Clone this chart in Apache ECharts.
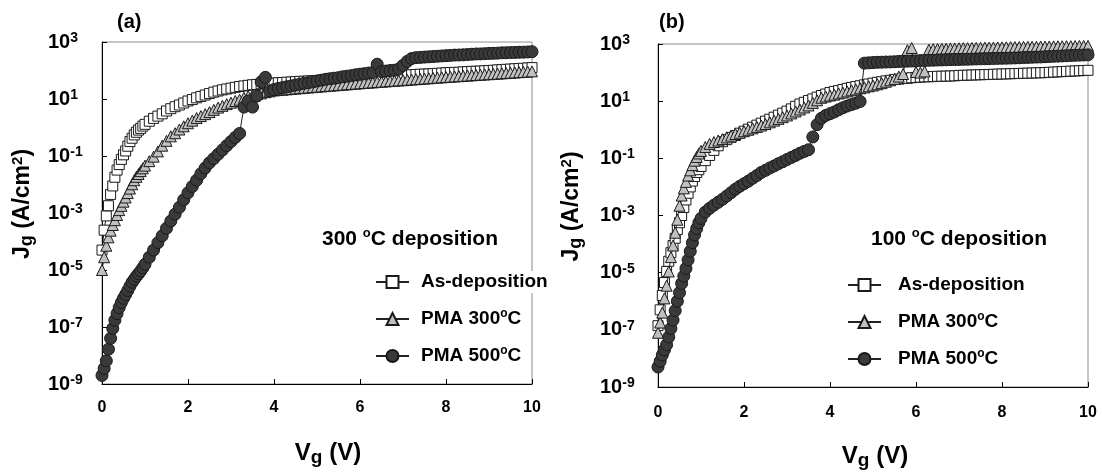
<!DOCTYPE html>
<html>
<head>
<meta charset="utf-8">
<script src="https://cdn.jsdelivr.net/npm/echarts@6/dist/echarts.min.js"></script>
<style>
html, body { margin: 0; padding: 0; background: #ffffff; }
#chart { width: 1102px; height: 475px; }
</style>
</head>
<body>
<div id="chart"></div>
<script>
// Gate voltage sweep, V
const Vg = [
  0, 0.05, 0.1, 0.15, 0.2, 0.25, 0.3, 0.35, 0.4, 0.45,
  0.5, 0.55, 0.6, 0.65, 0.7, 0.75, 0.8, 0.85, 0.9, 0.95,
  1.0, 1.1, 1.2, 1.3, 1.4, 1.5, 1.6, 1.7, 1.8, 1.9,
  2.0, 2.1, 2.2, 2.3, 2.4, 2.5, 2.6, 2.7, 2.8, 2.9,
  3.0, 3.1, 3.2, 3.3, 3.4, 3.5, 3.6, 3.7, 3.8, 3.9,
  4.0, 4.1, 4.2, 4.3, 4.4, 4.5, 4.6, 4.7, 4.8, 4.9,
  5.0, 5.1, 5.2, 5.3, 5.4, 5.5, 5.6, 5.7, 5.8, 5.9,
  6.0, 6.1, 6.2, 6.3, 6.4, 6.5, 6.6, 6.7, 6.8, 6.9,
  7.0, 7.1, 7.2, 7.3, 7.4, 7.5, 7.6, 7.7, 7.8, 7.9,
  8.0, 8.1, 8.2, 8.3, 8.4, 8.5, 8.6, 8.7, 8.8, 8.9,
  9.0, 9.1, 9.2, 9.3, 9.4, 9.5, 9.6, 9.7, 9.8, 9.9,
  10.0
];

// Jg (A/cm2), film deposited at 300 C
const asDep300 = [
  5.0e-5, 2.5e-4, 7.9e-4, 1.8e-3, 4.5e-3, 8.9e-3, 1.8e-2, 3.2e-2, 5.0e-2, 7.6e-2,
  0.11, 0.15, 0.22, 0.32, 0.42, 0.55, 0.68, 0.81, 0.93, 1.12,
  1.29, 1.66, 2.09, 2.51, 3.02, 3.8, 4.57, 5.37, 6.17, 7.24,
  8.51, 9.55, 11.0, 12.3, 13.8, 15.5, 17.4, 19.1, 20.9, 22.4,
  24.0, 25.7, 27.5, 28.8, 30.2, 31.6, 32.4, 33.9, 34.7, 35.5,
  36.3, 37.0, 37.9, 38.8, 39.6, 40.5, 41.5, 42.1, 42.9, 43.9,
  44.7, 45.6, 46.8, 47.8, 49.0, 50.1, 50.6, 51.5, 52.6, 53.7,
  55.0, 56.2, 57.5, 58.9, 60.3, 61.6, 62.0, 63.1, 64.6, 66.1,
  67.6, 69.2, 70.8, 72.4, 74.1, 74.6, 75.9, 77.6, 79.4, 81.3,
  83.2, 85.1, 85.6, 87.1, 89.1, 91.2, 93.3, 93.8, 95.5, 97.7,
  100, 102, 105, 107, 110, 112, 115, 117, 120, 123,
  126
];
const pma300Dep300 = [
  1.0e-5, 2.8e-5, 7.1e-5, 1.4e-4, 2.4e-4, 3.8e-4, 5.6e-4, 8.5e-4, 1.26e-3, 1.78e-3,
  2.5e-3, 3.5e-3, 5.0e-3, 7.2e-3, 1.02e-2, 1.41e-2, 1.86e-2, 2.34e-2, 2.95e-2, 3.7e-2,
  4.6e-2, 6.6e-2, 9.5e-2, 0.145, 0.23, 0.34, 0.49, 0.63, 0.85, 1.10,
  1.41, 1.74, 2.14, 2.51, 2.95, 3.47, 4.17, 5.0, 5.75, 6.6,
  7.4, 8.5, 9.5, 11.0, 12.6, 13.5, 14.8, 15.8, 17.4, 18.6,
  20.0, 20.6, 21.2, 21.8, 22.5, 23.2, 23.9, 24.6, 25.3, 26.1,
  26.9, 27.6, 28.4, 29.2, 30.0, 30.8, 31.7, 32.6, 33.5, 34.5,
  35.5, 36.4, 37.4, 38.3, 39.3, 40.4, 41.4, 42.5, 43.6, 44.7,
  45.7, 46.9, 48.1, 49.4, 50.7, 52.0, 53.3, 54.7, 56.1, 57.5,
  58.9, 60.3, 61.8, 63.2, 64.7, 66.2, 67.8, 69.4, 71.0, 72.6,
  74.1, 75.8, 77.6, 79.4, 81.2, 83.1, 85.1, 87.1, 89.1, 91.2,
  93.3
];
const pma500Dep300 = [
  2.0e-9, 3.5e-9, 6.5e-9, 1.66e-8, 4.0e-8, 8.9e-8, 1.74e-7, 2.95e-7, 4.8e-7, 7.2e-7,
  1.02e-6, 1.38e-6, 1.9e-6, 2.7e-6, 3.7e-6, 4.7e-6, 6.0e-6, 7.4e-6, 9.3e-6, 1.2e-5,
  1.58e-5, 2.8e-5, 5.0e-5, 9.1e-5, 1.58e-4, 2.9e-4, 5.2e-4, 9.1e-4, 1.58e-3, 2.9e-3,
  5.1e-3, 8.5e-3, 1.41e-2, 2.4e-2, 3.8e-2, 5.8e-2, 8.1e-2, 0.115, 0.162, 0.23,
  0.32, 0.45, 0.62, 5.2, 8.5, 5.2, 12.6, 39.8, 57.5, 19.1,
  21.4, 23.4, 25.1, 26.9, 28.8, 30.9, 33.1, 35.5, 37.2, 39.8,
  42.7, 45.7, 49.0, 51.3, 53.7, 56.2, 60.3, 63.1, 66.1, 70.8,
  74.1, 77.6, 81.3, 85.1, 166, 91.2, 95.5, 100, 102, 112,
  151, 209, 263, 282, 288, 295, 302, 309, 316, 324,
  331, 339, 347, 350, 355, 363, 372, 380, 382, 389,
  398, 400, 407, 417, 420, 427, 430, 437, 440, 447,
  457
];

// Jg (A/cm2), film deposited at 100 C
const asDep100 = [
  1.4e-7, 5.0e-7, 1.6e-6, 4.5e-6, 1.1e-5, 2.5e-5, 5.0e-5, 8.9e-5, 1.6e-4, 3.2e-4,
  5.6e-4, 1.0e-3, 1.9e-3, 3.5e-3, 6.0e-3, 1.0e-2, 1.6e-2, 2.3e-2, 3.2e-2, 4.0e-2,
  5.2e-2, 8.3e-2, 0.126, 0.19, 0.275, 0.38, 0.45, 0.54, 0.63, 0.76,
  0.89, 1.05, 1.23, 1.45, 1.70, 2.0, 2.34, 2.75, 3.24, 3.80,
  4.47, 5.37, 6.61, 7.94, 9.12, 10.5, 12.0, 13.8, 15.8, 17.8,
  20.0, 21.9, 23.4, 25.7, 28.2, 30.2, 32.4, 34.7, 37.2, 39.8,
  42.7, 45.7, 47.9, 51.3, 53.7, 57.5, 58.9, 61.7, 63.1, 66.1,
  67.6, 69.2, 70.8, 71.5, 72.4, 74.1, 74.6, 75.4, 76.0, 77.0,
  79.4, 80.3, 81.3, 82.2, 83.2, 84.1, 85.1, 86.1, 87.1, 88.1,
  89.1, 90.1, 91.2, 92.3, 93.4, 94.4, 95.5, 96.6, 97.7, 98.9,
  100, 102, 104, 106, 108, 110, 112, 114, 116, 118,
  120
];
const pma300Dep100 = [
  7.9e-8, 1.8e-7, 4.0e-7, 1.26e-6, 3.5e-6, 1.1e-5, 3.5e-5, 8.9e-5, 2.5e-4, 7.1e-4,
  2.2e-3, 5.0e-3, 8.9e-3, 1.5e-2, 2.5e-2, 3.8e-2, 5.8e-2, 8.3e-2, 0.112, 0.148,
  0.182, 0.25, 0.32, 0.37, 0.42, 0.47, 0.54, 0.62, 0.71, 0.79,
  0.89, 1.0, 1.12, 1.26, 1.41, 1.58, 1.82, 2.09, 2.4, 2.75,
  3.16, 3.72, 4.37, 5.13, 6.03, 7.08, 8.71, 10.7, 13.2, 14.5,
  15.8, 17.0, 18.6, 20.0, 21.9, 24.0, 25.7, 28.2, 30.2, 33.1,
  35.5, 38.9, 42.7, 47.9, 53.7, 60.3, 72.4, 89.1, 603, 724,
  105, 100, 110, 631, 661, 665, 676, 680, 692, 695,
  708, 712, 716, 724, 728, 732, 741, 745, 749, 759,
  762, 766, 776, 780, 784, 794, 797, 800, 803, 813,
  816, 820, 823, 832, 835, 838, 841, 851, 854, 857,
  860
];
const pma500Dep100 = [
  5.0e-9, 7.9e-9, 1.32e-8, 2.0e-8, 3.0e-8, 5.6e-8, 1.12e-7, 2.2e-7, 4.7e-7, 1.0e-6,
  2.0e-6, 4.2e-6, 7.6e-6, 1.41e-5, 2.8e-5, 5.6e-5, 1.12e-4, 2.1e-4, 3.5e-4, 5.6e-4,
  7.9e-4, 1.32e-3, 1.78e-3, 2.3e-3, 2.9e-3, 3.7e-3, 4.8e-3, 6.3e-3, 8.3e-3, 1.05e-2,
  1.29e-2, 1.58e-2, 2.0e-2, 2.5e-2, 3.2e-2, 3.8e-2, 4.6e-2, 5.4e-2, 6.5e-2, 7.6e-2,
  9.1e-2, 0.107, 0.126, 0.151, 0.174, 0.2, 0.56, 1.51, 2.51, 3.16,
  3.63, 4.17, 5.01, 5.89, 6.76, 7.59, 8.51, 9.77, 214, 219,
  224, 229, 231, 234, 236, 240, 245, 247, 251, 253,
  257, 263, 265, 269, 271, 275, 277, 280, 283, 286,
  288, 290, 293, 296, 300, 302, 304, 307, 310, 314,
  316, 318, 322, 325, 329, 336, 339, 344, 348, 352,
  360, 365, 370, 376, 382, 389, 396, 402, 408, 412,
  417
];

// Labelled decades on the current-density axes
const yTickValues = [1e-9, 1e-7, 1e-5, 1e-3, 1e-1, 1e1, 1e3];

const seriesNames = ['As-deposition', 'PMA 300°C', 'PMA 500°C'];
const panelLabels = ['(a)', '(b)'];
const panelNotes = ['300 °C deposition', '100 °C deposition'];
const panelData = [
  [asDep300, pma300Dep300, pma500Dep300],
  [asDep100, pma300Dep100, pma500Dep100]
];

const FONT = '"Liberation Sans", Arial, Helvetica, sans-serif';

// marker look per anneal condition
const markerStyles = [
  { symbol: 'rect', size: 10, fill: '#ffffff' },
  { symbol: 'triangle', size: 11, fill: '#c0c0c0' },
  { symbol: 'circle', size: 12, fill: '#3a3a3a' }
];

const layout = [
  { grid: { left: 102, top: 42, width: 430, height: 342 }, yLabelMargin: 54, yNameGap: 66, xLabelMargin: 16, xNameGap: 56, xNameShift: 22,
    label: { left: 117, top: 12 }, note: { left: 322, top: 227 }, legend: { left: 375, top: 271, textPad: 7 } },
  { grid: { left: 658, top: 44, width: 430, height: 343 }, yLabelMargin: 58, yNameGap: 73, xLabelMargin: 18, xNameGap: 56, xNameShift: 4,
    label: { left: 659, top: 12 }, note: { left: 871, top: 227 }, legend: { left: 847, top: 274, textPad: 12 } }
];

const boldText = (size) => ({ fontFamily: FONT, fontWeight: 'bold', fontSize: size, color: '#000' });
const supO = { fontFamily: FONT, fontWeight: 'bold', fontSize: 12, color: '#000', verticalAlign: 'top', lineHeight: 11 };
const degreeToRich = (s) => s.replace('°', '{o|o}');

const grids = [], xAxes = [], yAxes = [], series = [], titles = [], legends = [];

layout.forEach((L, p) => {
  grids.push(Object.assign({
    show: true, borderColor: '#8c8c8c', borderWidth: 1, backgroundColor: 'transparent',
    containLabel: false, outerBoundsMode: 'none'
  }, L.grid));

  xAxes.push({
    type: 'value', gridIndex: p, min: 0, max: 10, interval: 2,
    axisLine: { show: true, onZero: false, lineStyle: { color: '#000', width: 1 } },
    axisTick: { show: true, inside: true, length: 5, lineStyle: { color: '#000' } },
    axisLabel: Object.assign(boldText(16), { margin: L.xLabelMargin }),
    splitLine: { show: false },
    name: '{a|V}{s|g}{a| (V)}',
    nameLocation: 'middle', nameGap: L.xNameGap, nameMoveOverlap: false,
    nameTextStyle: {
      padding: [0, 0, 0, L.xNameShift],
      rich: {
        a: Object.assign(boldText(24), { lineHeight: 27 }),
        s: Object.assign(boldText(19), { lineHeight: 15, verticalAlign: 'bottom' })
      }
    }
  });

  yAxes.push({
    type: 'log', logBase: 10, gridIndex: p, min: 1e-9, max: 1e3,
    axisLine: { show: true, onZero: false, lineStyle: { color: '#000', width: 1 } },
    axisTick: { show: true, inside: true, length: 5, lineStyle: { color: '#000' }, customValues: yTickValues },
    minorTick: { show: false },
    axisLabel: {
      customValues: yTickValues,
      align: 'left', margin: L.yLabelMargin,
      formatter: (v) => '{b|10}{e|' + Math.round(Math.log10(v)) + '}',
      rich: {
        b: Object.assign(boldText(20), { lineHeight: 22 }),
        e: Object.assign(boldText(14), { lineHeight: 12, verticalAlign: 'top' })
      }
    },
    splitLine: { show: false },
    name: '{a|J}{s|g}{a| (A/cm}{p|2}{a|)}',
    nameLocation: 'middle', nameGap: L.yNameGap, nameMoveOverlap: false,
    nameTextStyle: {
      padding: [0, 0, 0, 18],
      rich: {
        a: Object.assign(boldText(23), { lineHeight: 26 }),
        s: Object.assign(boldText(18), { lineHeight: 15, verticalAlign: 'bottom' }),
        p: Object.assign(boldText(15), { lineHeight: 13, verticalAlign: 'top' })
      }
    }
  });

  panelData[p].forEach((values, k) => {
    const m = markerStyles[k];
    series.push({
      type: 'line', name: seriesNames[k], xAxisIndex: p, yAxisIndex: p,
      data: Vg.map((v, i) => [v, values[i]]),
      symbol: m.symbol, symbolSize: m.size, showSymbol: true, showAllSymbol: true,
      itemStyle: { color: m.fill, borderColor: '#1a1a1a', borderWidth: 1 },
      lineStyle: { color: '#222', width: 1 },
      emphasis: { disabled: true },
      z: 2 + k
    });
  });

  titles.push({
    text: panelLabels[p], left: L.label.left, top: L.label.top, padding: 0,
    textStyle: boldText(20)
  });
  titles.push({
    text: degreeToRich(panelNotes[p]), left: L.note.left, top: L.note.top, padding: 0,
    textStyle: Object.assign(boldText(21), { lineHeight: 24, rich: { o: Object.assign({}, supO, { fontSize: 13 }) } })
  });

  legends.push({
    data: seriesNames, orient: 'vertical', left: L.legend.left, top: L.legend.top,
    padding: 0, itemWidth: 33, itemHeight: 15, itemGap: 15, selectedMode: false,
    formatter: degreeToRich,
    textStyle: Object.assign(boldText(19), {
      lineHeight: 22, backgroundColor: '#ffffff', padding: [0, 2, 0, L.legend.textPad],
      rich: { o: supO }
    })
  });
});

const chart = echarts.init(document.getElementById('chart'), null, { renderer: 'canvas' });
chart.setOption({
  animation: false,
  backgroundColor: '#ffffff',
  title: titles,
  legend: legends,
  grid: grids,
  xAxis: xAxes,
  yAxis: yAxes,
  series: series
});
</script>
</body>
</html>
